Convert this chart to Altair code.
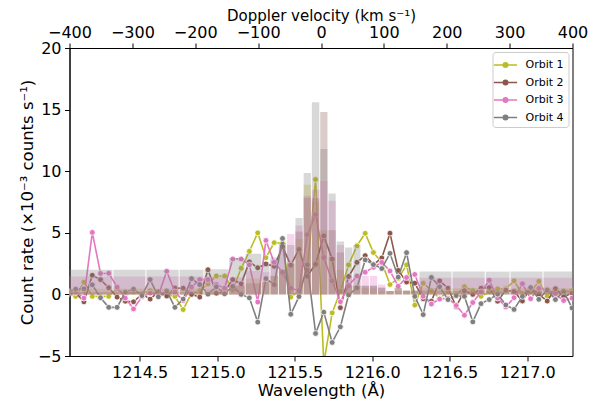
import altair as alt
import pandas as pd

# ---------------- data ----------------
wavelength = [
    1214.034, 1214.088, 1214.141, 1214.195, 1214.248, 1214.301, 1214.355, 1214.408,
    1214.461, 1214.515, 1214.568, 1214.621, 1214.675, 1214.728, 1214.781, 1214.835,
    1214.888, 1214.941, 1214.995, 1215.048, 1215.101, 1215.155, 1215.208, 1215.262,
    1215.315, 1215.368, 1215.422, 1215.475, 1215.528, 1215.582, 1215.635, 1215.688,
    1215.742, 1215.795, 1215.848, 1215.902, 1215.955, 1216.008, 1216.062, 1216.115,
    1216.168, 1216.222, 1216.275, 1216.329, 1216.382, 1216.435, 1216.489, 1216.542,
    1216.595, 1216.649, 1216.702, 1216.755, 1216.809, 1216.862, 1216.915, 1216.969,
    1217.022, 1217.075, 1217.129, 1217.182, 1217.235, 1217.289,
]

orbit1 = [
    0.1, -0.16, 0.99, -0.16, -0.16, -0.16, 0.46, 0.0, 0.2, 0.1, 0.3, -0.1, 0.0, -0.16,
    -1.23, 0.1, 0.3, 0.85, 1.5, 1.5, 0.4, 2.12, 3.5, 5.0, 2.98, 4.2, 4.15, -0.22, 0.3,
    2.0, 9.33, -5.6, -1.5, 0.25, 2.39, 3.95, 4.96, 3.4, 2.6, 0.8, 1.3, 2.4, -0.87, 0.91,
    0.3, -0.3, 0.2, -0.09, 0.62, 0.32, -0.16, 0.2, 0.45, 0.46, 1.1, 0.0, 0.2, 1.06,
    -0.16, 0.1, 0.3, 0.3,
]
orbit2 = [
    0.0, 0.15, -0.6, 1.55, 1.2, 0.54, -0.22, -0.55, -0.6, 0.02, -0.38, 0.2, -0.13, 0.52,
    0.5, 0.0, -0.22, 2.0, 0.1, 0.22, 1.2, 0.86, 2.64, 2.16, 2.47, 2.28, 3.87, 2.38, 3.65,
    1.49, 2.45, 4.75, 2.87, -1.08, 1.45, 2.6, 3.15, 2.42, 2.96, 4.97, 1.95, 1.0, 0.91,
    -0.35, -0.55, 1.1, 0.51, -1.0, 0.3, 0.0, 0.5, 0.55, -0.55, 0.35, 0.24, -0.54, 0.54,
    0.0, -0.54, 0.46, -0.18, 0.1,
]
orbit3 = [
    0.3, 0.2, -0.3, 5.03, 1.7, 1.72, 0.59, -0.3, -1.18, -0.2, 0.1, -0.1, 1.88, 0.2, -0.5,
    0.6, 1.2, 1.2, 0.8, 0.5, 2.88, 2.88, 2.4, -0.62, 4.38, 2.6, 1.8, 0.5, 0.3, 4.85, 6.48,
    3.0, 1.1, -0.6, 0.73, 1.5, 1.8, 2.2, 2.6, 1.9, 0.66, 1.37, 1.62, -0.16, -0.78, -0.38,
    -0.3, -0.9, -1.69, -0.66, 0.2, 1.15, -0.3, -1.02, -0.27, 0.86, -0.35, 0.5, 0.4, 0.0,
    -0.5, -0.3,
]
orbit4 = [
    0.2, 0.42, 0.45, 0.78, -0.27, -1.05, -1.05, 0.19, 0.42, -0.1, 1.2, -0.2, 0.28, -1.05,
    -0.38, 1.28, 0.8, 0.02, 0.62, 0.05, 0.66, 0.0, -0.28, -2.25, 1.28, 0.8, 4.54, -1.61,
    -0.18, 2.4, -3.17, -1.44, -3.9, -2.63, -0.05, 0.54, 2.8, 2.42, 2.1, 3.33, 1.4, 3.39,
    -0.16, -1.64, 1.37, 0.62, -0.42, -0.1, -0.16, -2.23, -0.75, -0.42, 0.02, -0.86,
    -1.22, -0.16, 0.55, -0.4, 0.36, -0.42, 0.25, -1.1,
]

# binned (histogram) rates, variable-width bins
bin_edges = [
    1214.008, 1214.328, 1214.541, 1214.755, 1214.915, 1215.075, 1215.181, 1215.288,
    1215.341, 1215.395, 1215.448, 1215.502, 1215.555, 1215.608, 1215.662, 1215.715,
    1215.768, 1215.822, 1215.875, 1215.928, 1215.982, 1216.035, 1216.088, 1216.142,
    1216.195, 1216.249, 1216.302, 1216.515, 1216.729, 1216.889, 1217.102, 1217.315,
]
hist1 = [0.45, 0.45, 0.45, 0.45, 0.45, 0.7, 1.3, 1.0, 1.5, 2.0, 2.5, 4.5, 8.9, 7.5,
         5.2, 3.0, 2.0, 0.7, 0.7, 0.5, 0.5, 0.3, 0.27, 0.54, 0.3, 0.3, 0.5, 0.5, 0.5,
         0.5, 0.5]
hist2 = [0.2, 0.2, 0.2, 0.2, 0.2, 0.7, 0.9, 1.0, 1.5, 2.0, 2.5, 5.1, 7.85, 7.8, 14.8,
         5.2, 3.4, 0.7, 0.7, 0.7, 0.7, 0.55, 0.27, 0.3, 0.3, 0.3, 0.3, 0.3, 0.3, 0.3,
         0.3]
hist3 = [1.45, 1.45, 1.45, 1.45, 1.45, 1.4, 1.9, 1.8, 2.8, 3.8, 4.9, 5.6, 8.0, 8.5,
         9.2, 7.6, 4.0, 1.5, 1.5, 1.5, 1.5, 0.8, 0.27, 0.5, 0.3, 0.3, 1.35, 1.35, 1.35,
         1.35, 1.35]
hist4 = [2.0, 2.0, 2.0, 2.0, 2.05, 2.96, 3.3, 2.6, 3.0, 4.2, 4.0, 6.2, 9.85, 15.6,
         11.8, 8.2, 4.3, 3.8, 4.0, 0.7, 0.7, 0.55, 0.27, 0.5, 0.3, 0.3, 1.85, 1.85, 1.85,
         1.85, 1.85]

orbits = ["Orbit 1", "Orbit 2", "Orbit 3", "Orbit 4"]
colors = ["#bcbd22", "#8c564b", "#e377c2", "#7f7f7f"]
velocity_ticks = [-400, -300, -200, -100, 0, 100, 200, 300, 400]
wl_ticks = [1214.5, 1215.0, 1215.5, 1216.0, 1216.5, 1217.0]
rate_ticks = [-5, 0, 5, 10, 15, 20]

# ---------------- tables ----------------
rows = []
for name, vals in zip(orbits, [orbit1, orbit2, orbit3, orbit4]):
    for w, v in zip(wavelength, vals):
        rows.append({"wl": w, "rate": v, "orbit": name})
df = pd.DataFrame(rows)

hrows = []
for name, hv in zip(orbits, [hist1, hist2, hist3, hist4]):
    for lo, hi, h in zip(bin_edges[:-1], bin_edges[1:], hv):
        hrows.append({"lo": lo, "hi": hi, "h": h, "orbit": name})
hdf = pd.DataFrame(hrows)

vdf = pd.DataFrame({"v": velocity_ticks})

# ---------------- scales / axes ----------------
lam0 = 1215.67
c_kms = 299792.458
xdom = [lam0 * (1 - 400 / c_kms), lam0 * (1 + 400 / c_kms)]
xs = alt.Scale(domain=xdom, nice=False, zero=False)
ys = alt.Scale(domain=[-5, 20], nice=False, zero=False)
cscale = alt.Scale(domain=orbits, range=colors)

x_axis = alt.Axis(values=wl_ticks, format=".1f", title="Wavelength (Å)", titlePadding=2)
y_axis = alt.Axis(values=rate_ticks, format="d",
                  title="Count rate (×10⁻³ counts s⁻¹)", titlePadding=2)

sym_path = "M-1.45,0L1.45,0M-0.28,0A0.28,0.28,0,1,1,0.28,0A0.28,0.28,0,1,1,-0.28,0Z"
legend = alt.Legend(
    title=None, orient="top-right", offset=4, symbolType=sym_path, symbolSize=256,
    symbolStrokeWidth=1.5, labelFontSize=11, labelFont="DejaVu Sans",
    labelColor="black", padding=4, strokeColor="#cccccc", fillColor="white",
    cornerRadius=3, rowPadding=2.5, labelOffset=11, symbolOpacity=1,
)

layers = []
for name in orbits:
    base = alt.Chart(df).transform_filter(alt.datum.orbit == name)
    line = base.mark_line(strokeWidth=1.6, clip=True).encode(
        x=alt.X("wl:Q", scale=xs, axis=x_axis),
        y=alt.Y("rate:Q", scale=ys, axis=y_axis),
        stroke=alt.Stroke("orbit:N", scale=cscale, legend=legend),
        order="wl:Q",
    )
    pts = base.mark_circle(size=34, stroke="white", strokeWidth=0.8, opacity=1,
                           clip=True).encode(
        x=alt.X("wl:Q", scale=xs),
        y=alt.Y("rate:Q", scale=ys),
        fill=alt.Fill("orbit:N", scale=cscale, legend=legend),
    )
    layers += [line, pts]

bars = alt.Chart(hdf).mark_rect(clip=True, fillOpacity=0.3, xOffset=0.5,
                                x2Offset=-0.5).encode(
    x=alt.X("lo:Q", scale=xs),
    x2="hi:Q",
    y=alt.Y("h:Q", scale=ys),
    y2=alt.datum(0),
    fill=alt.Fill("orbit:N", scale=cscale, legend=None),
)
layers.append(bars)

main = alt.layer(*layers)

top = alt.Chart(vdf).mark_point(opacity=0).encode(
    x=alt.X("v:Q", scale=alt.Scale(domain=[-400, 400], nice=False, zero=False),
            axis=alt.Axis(orient="top", values=velocity_ticks, format="d",
                          title="Doppler velocity (km s⁻¹)", titlePadding=1,
                          titleFontSize=15, labelPadding=3)),
)

chart = alt.layer(main, top).resolve_scale(x="independent").properties(
    width=503, height=308,
    padding={"left": 61.5, "top": 40, "right": 20, "bottom": 50},
    autosize=alt.AutoSizeParams(type="none"),
).configure_view(stroke="black", strokeWidth=1).configure_axis(
    labelFont="DejaVu Sans", titleFont="DejaVu Sans", labelFontSize=16,
    titleFontSize=16.5, titleFontWeight="normal", labelColor="black",
    titleColor="black", tickColor="black", domainColor="black", tickSize=5,
    tickWidth=1, domainWidth=1, grid=False, labelPadding=3.5, labelFlush=False,
    labelOverlap=False, labelBound=False,
)

chart.save("out.html", embed_options={"renderer": "svg", "actions": False})
